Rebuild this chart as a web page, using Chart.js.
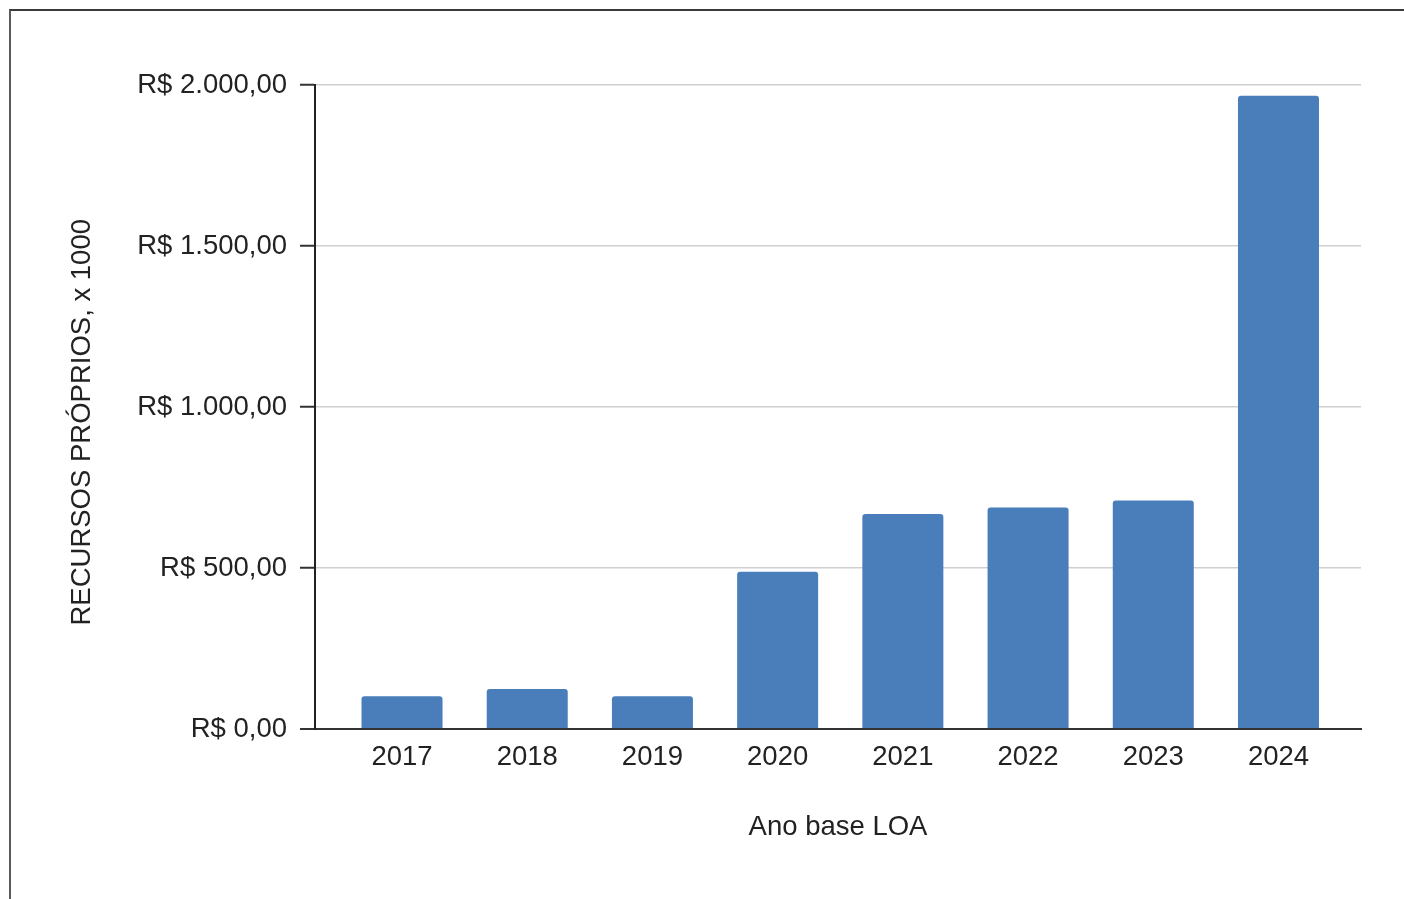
<!DOCTYPE html>
<html>
<head>
<meta charset="utf-8">
<script src="https://cdn.jsdelivr.net/npm/chart.js@4.4.1/dist/chart.umd.min.js"></script>
<style>
  html, body { margin: 0; padding: 0; background: #fff; overflow: hidden; }
  #wrap { position: absolute; left: 0; top: 0; width: 1404px; height: 899px; }
  #frame { position: absolute; left: 9px; top: 9px; width: 1400px; height: 900px;
           border-top: 2px solid #3a3a3a; border-left: 2px solid #5a5a5a; pointer-events: none; }
  canvas { position: absolute; left: 0; top: 0; }
</style>
</head>
<body>
<div id="wrap">
  <canvas id="c" width="1404" height="899"></canvas>
  <div id="frame"></div>
</div>
<script>
const years = ['2017', '2018', '2019', '2020', '2021', '2022', '2023', '2024'];
const values = [102, 124, 102, 488, 668, 688, 710, 1967];
const yTickValues = [0, 500, 1000, 1500, 2000];
const yTitle = 'RECURSOS PRÓPRIOS, x 1000    ';
const xTitle = 'Ano base LOA';

const FONT = 'Arial, "Liberation Sans", sans-serif';
const FS = 27.5;

function brl(v) {
  const s = Number(v).toFixed(2).split('.');
  const int = s[0].replace(/\B(?=(\d{3})+(?!\d))/g, '.');
  return 'R$ ' + int + ',' + s[1];
}

const points = years.map((y, i) => ({ x: i, y: values[i] }));

new Chart(document.getElementById('c'), {
  type: 'bar',
  data: {
    datasets: [{
      data: points,
      backgroundColor: '#4a7ebb',
      borderWidth: 0,
      borderRadius: { topLeft: 3, topRight: 3, bottomLeft: 0, bottomRight: 0 },
      borderSkipped: 'start',
      categoryPercentage: 1,
      barPercentage: 0.647
    }]
  },
  options: {
    responsive: false,
    animation: false,
    events: [],
    layout: { padding: { left: 0, top: 85, right: 43, bottom: 0 } },
    plugins: { legend: { display: false }, tooltip: { enabled: false } },
    scales: {
      x: {
        type: 'linear',
        offset: false,
        min: -0.695,
        max: 7.659,
        afterBuildTicks: (scale) => { scale.ticks = years.map((_, i) => ({ value: i })); },
        afterFit: (scale) => { scale.height = 170; },
        grid: { display: false, drawTicks: false, offset: false },
        border: { display: true, color: '#333', width: 2 },
        ticks: {
          stepSize: 1,
          includeBounds: false,
          autoSkip: false,
          maxRotation: 0,
          padding: 12,
          color: '#222',
          font: { family: FONT, size: FS },
          callback: (v) => years[v] !== undefined ? years[v] : ''
        },
        title: {
          display: true,
          text: xTitle,
          color: '#222',
          font: { family: FONT, size: FS },
          padding: { top: 0, bottom: 55 }
        }
      },
      y: {
        min: 0,
        max: 2000,
        afterBuildTicks: (scale) => { scale.ticks = yTickValues.map(v => ({ value: v })); },
        afterFit: (scale) => { scale.width = 315; },
        grid: {
          color: (ctx) => (ctx.tick && ctx.tick.value === 0) ? '#333' : '#cfcfcf',
          lineWidth: (ctx) => (ctx.tick && ctx.tick.value === 0) ? 2 : 1.5,
          tickColor: '#333',
          tickLength: 15,
          tickWidth: 2
        },
        border: { display: true, color: '#222', width: 2 },
        ticks: {
          stepSize: 500,
          padding: 13,
          color: '#222',
          font: { family: FONT, size: FS },
          callback: (v) => brl(v)
        },
        title: {
          display: true,
          text: yTitle,
          color: '#222',
          font: { family: FONT, size: FS },
          padding: { top: 66, bottom: 0 }
        }
      }
    }
  }
});
</script>
</body>
</html>
